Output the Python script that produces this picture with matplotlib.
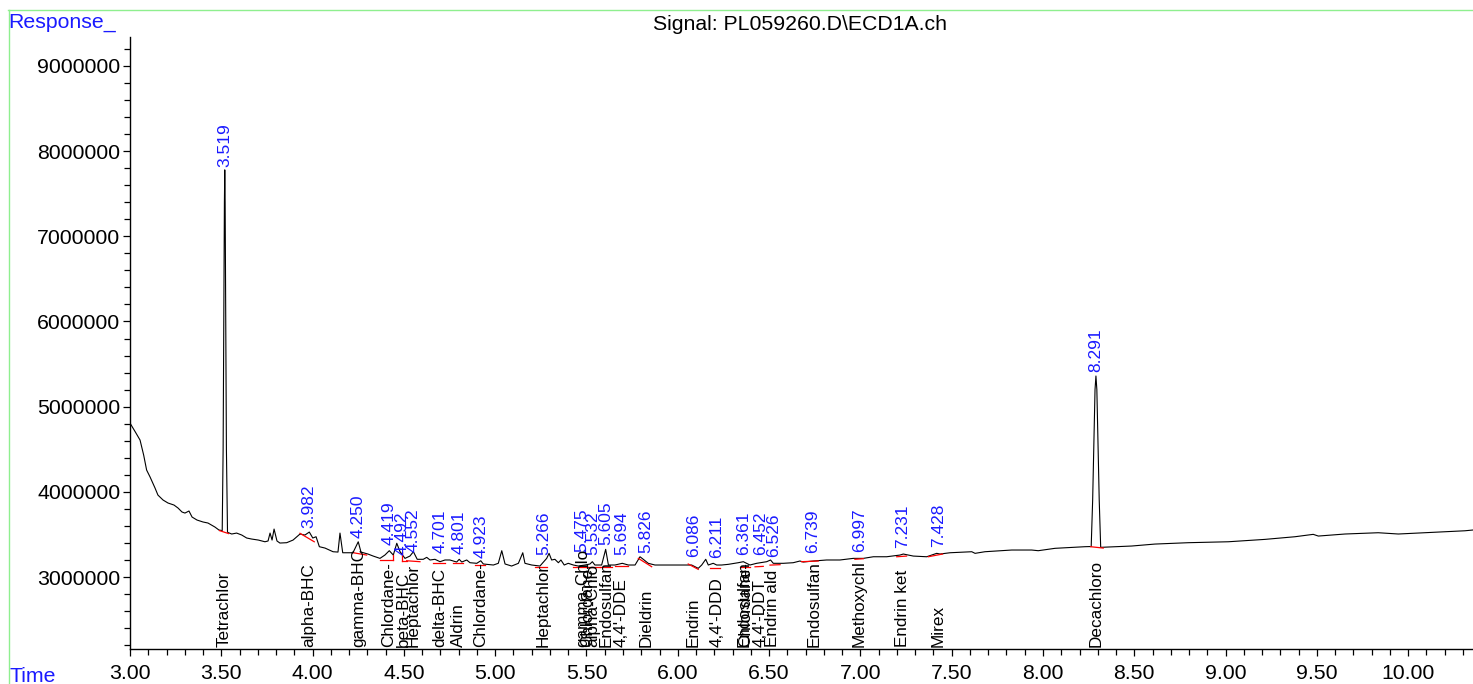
import matplotlib
matplotlib.use("Agg")
import matplotlib.pyplot as plt
from matplotlib.lines import Line2D
from matplotlib.ticker import MultipleLocator, FormatStrFormatter
import matplotlib.transforms as mtransforms

plt.rcParams['font.family'] = ['Liberation Sans', 'DejaVu Sans']

# ---------------- data ----------------
times = [3.000, 3.030, 3.055, 3.075, 3.091, 3.110, 3.137, 3.153, 3.181, 3.208, 3.241, 3.263,
         3.285, 3.301, 3.323, 3.340, 3.367, 3.400, 3.427, 3.465, 3.487, 3.505,
         3.510, 3.514, 3.517, 3.519, 3.521, 3.524, 3.528, 3.534, 3.557, 3.584,
         3.612, 3.639, 3.666, 3.703, 3.739, 3.756, 3.767, 3.778, 3.789, 3.805,
         3.821, 3.858, 3.893, 3.931, 3.958, 3.982, 4.001, 4.019, 4.037, 4.068,
         4.112, 4.139, 4.150, 4.165, 4.221, 4.250, 4.265, 4.303, 4.332, 4.369,
         4.396, 4.420, 4.442, 4.461, 4.479, 4.506, 4.533, 4.552, 4.573, 4.606,
         4.625, 4.643, 4.670, 4.698, 4.725, 4.752, 4.789, 4.803, 4.817, 4.844,
         4.862, 4.899, 4.921, 4.935, 4.990, 5.017, 5.036, 5.054, 5.090, 5.127,
         5.151, 5.163, 5.200, 5.245, 5.282, 5.295, 5.309, 5.327, 5.346, 5.360,
         5.378, 5.400, 5.428, 5.455, 5.492, 5.519, 5.532, 5.546, 5.583, 5.605,
         5.620, 5.656, 5.696, 5.729, 5.766, 5.793, 5.811, 5.838, 5.875, 5.948,
         6.021, 6.076, 6.112, 6.131, 6.153, 6.167, 6.194, 6.213, 6.240, 6.277,
         6.331, 6.359, 6.395, 6.432, 6.487, 6.508, 6.523, 6.578, 6.632, 6.669,
         6.687, 6.742, 6.815, 6.888, 6.961, 7.016, 7.071, 7.144, 7.217, 7.235,
         7.290, 7.363, 7.418, 7.436, 7.491, 7.610, 7.628, 7.682, 7.829, 7.938,
         7.974, 8.066, 8.230, 8.264, 8.272, 8.279, 8.285, 8.290, 8.295, 8.301,
         8.308, 8.316, 8.322, 8.486, 8.613, 8.796, 9.015, 9.216, 9.380, 9.480,
         9.508, 9.654, 9.836, 9.946, 10.092, 10.311, 10.355]

response = [4807000, 4700000, 4608000, 4430000, 4256000, 4174000, 4045000, 3962000, 3904000, 3869000, 3845000, 3810000,
            3763000, 3751000, 3775000, 3704000, 3669000, 3646000, 3634000, 3587000, 3552000, 3545000,
            4500000, 6200000, 7400000, 7780000, 7400000, 6200000, 4500000, 3525000, 3505000, 3516000,
            3493000, 3458000, 3446000, 3434000, 3414000, 3423000, 3516000, 3434000, 3563000, 3423000,
            3399000, 3403000, 3434000, 3505000, 3493000, 3528000, 3458000, 3473000, 3356000, 3340000,
            3297000, 3293000, 3516000, 3285000, 3285000, 3414000, 3293000, 3270000, 3246000, 3219000,
            3258000, 3309000, 3258000, 3396000, 3297000, 3219000, 3246000, 3297000, 3208000, 3208000,
            3231000, 3200000, 3208000, 3180000, 3200000, 3200000, 3176000, 3208000, 3176000, 3200000,
            3168000, 3161000, 3191000, 3153000, 3141000, 3161000, 3309000, 3153000, 3129000, 3161000,
            3285000, 3161000, 3141000, 3129000, 3219000, 3278000, 3200000, 3208000, 3168000, 3200000,
            3141000, 3161000, 3141000, 3129000, 3141000, 3153000, 3180000, 3141000, 3141000, 3325000,
            3141000, 3141000, 3161000, 3141000, 3141000, 3238000, 3208000, 3161000, 3141000, 3141000,
            3141000, 3141000, 3102000, 3141000, 3208000, 3141000, 3161000, 3141000, 3141000, 3149000,
            3168000, 3180000, 3141000, 3161000, 3180000, 3200000, 3161000, 3161000, 3168000, 3188000,
            3176000, 3188000, 3200000, 3200000, 3219000, 3219000, 3238000, 3238000, 3258000, 3270000,
            3246000, 3238000, 3278000, 3270000, 3285000, 3297000, 3278000, 3297000, 3317000, 3317000,
            3309000, 3337000, 3356000, 3358000, 3900000, 4600000, 5200000, 5360000, 5200000, 4600000,
            3900000, 3350000, 3349000, 3364000, 3387000, 3403000, 3414000, 3442000, 3473000, 3501000,
            3481000, 3505000, 3520000, 3505000, 3520000, 3543000, 3552000]

# integration baselines (start time, start response, end time, end response)
base_t0 = [3.490, 3.931, 4.223, 4.369, 4.442, 4.488, 4.488, 4.515, 4.661, 4.770,
           4.889, 5.218, 5.428, 5.500, 5.574, 5.656, 5.784, 6.057, 6.176, 6.341,
           6.423, 6.505, 6.678, 6.970, 7.199, 7.372, 8.261]
base_v0 = [3545000, 3513000, 3285000, 3200000, 3200000, 3191000, 3191000, 3191000, 3168000, 3168000,
           3141000, 3114000, 3114000, 3114000, 3114000, 3129000, 3219000, 3153000, 3102000, 3120000,
           3120000, 3140000, 3180000, 3208000, 3238000, 3238000, 3356000]
base_t1 = [3.540, 4.009, 4.296, 4.442, 4.442, 4.515, 4.488, 4.588, 4.725, 4.825,
           4.944, 5.282, 5.500, 5.574, 5.638, 5.729, 5.857, 6.112, 6.231, 6.395,
           6.468, 6.560, 6.769, 7.016, 7.253, 7.450, 8.330]
base_v1 = [3510000, 3414000, 3258000, 3200000, 3258000, 3191000, 3297000, 3180000, 3168000, 3168000,
           3141000, 3114000, 3114000, 3114000, 3114000, 3129000, 3121000, 3090000, 3102000, 3120000,
           3125000, 3145000, 3188000, 3215000, 3246000, 3270000, 3340000]

# retention-time labels
peak_rt = [3.519, 3.982, 4.250, 4.419, 4.492, 4.552, 4.701, 4.801, 4.923, 5.266,
           5.475, 5.532, 5.605, 5.694, 5.826, 6.086, 6.211, 6.361, 6.452, 6.526,
           6.739, 6.997, 7.231, 7.428, 8.291]
peak_label_y = [7812000, 3575000, 3460000, 3376000, 3258000, 3293000, 3282000, 3270000, 3223000, 3258000,
                3293000, 3258000, 3376000, 3258000, 3282000, 3235000, 3223000, 3258000, 3258000, 3235000,
                3282000, 3293000, 3340000, 3352000, 5406000]

# compound names
name_rt = [3.515, 3.978, 4.253, 4.416, 4.495, 4.550, 4.699, 4.799, 4.919, 5.264,
           5.478, 5.505, 5.535, 5.606, 5.692, 5.824, 6.082, 6.215, 6.362, 6.372,
           6.452, 6.520, 6.745, 6.993, 7.233, 7.424, 8.292]
names = ["Tetrachlor", "alpha-BHC", "gamma-BHC", "Chlordane-", "beta-BHC", "Heptachlor",
         "delta-BHC", "Aldrin", "Chlordane-", "Heptachlor", "gamma-Chlo", "Chlordane-",
         "alpha-Chlo", "Endosulfan", "4,4'-DDE", "Dieldrin", "Endrin", "4,4'-DDD",
         "Endosulfan", "Chlordane-", "4,4'-DDT", "Endrin ald", "Endosulfan", "Methoxychl",
         "Endrin ket", "Mirex", "Decachloro"]

x_major = [3.0, 3.5, 4.0, 4.5, 5.0, 5.5, 6.0, 6.5, 7.0, 7.5, 8.0, 8.5, 9.0, 9.5, 10.0]
y_major = [3000000, 4000000, 5000000, 6000000, 7000000, 8000000, 9000000]

# ---------------- figure ----------------
W, H = 1473, 684
fig = plt.figure(figsize=(W / 100, H / 100), dpi=100)
ax = fig.add_axes([130 / W, 1 - 649 / H, (W - 130) / W, (649 - 37) / H])

ax.plot(times, response, color='black', lw=0.8)
for a, b, c, d in zip(base_t0, base_v0, base_t1, base_v1):
    ax.plot([a, c], [b, d], color='red', lw=0.9)

for rt, yv in zip(peak_rt, peak_label_y):
    ax.text(rt, yv, f"{rt:.3f}", rotation=90, ha='center', va='bottom',
            color='#1a1aff', fontsize=12.5)

trans = mtransforms.blended_transform_factory(ax.transData, ax.transAxes)
for rt, nm in zip(name_rt, names):
    ax.text(rt, 0.003, nm, rotation=90, ha='center', va='bottom',
            color='black', fontsize=12.3, transform=trans)

ax.set_xlim(3.0, 10.355)
ax.set_ylim(2155000, 9340000)
ax.set_xticks(x_major)
ax.xaxis.set_minor_locator(MultipleLocator(0.1))
ax.xaxis.set_major_formatter(FormatStrFormatter('%.2f'))
ax.set_yticks(y_major)
ax.yaxis.set_minor_locator(MultipleLocator(200000))
ax.yaxis.set_major_formatter(FormatStrFormatter('%d'))

for s in ['top', 'right']:
    ax.spines[s].set_visible(False)
for s in ['left', 'bottom']:
    ax.spines[s].set_linewidth(1.0)
    ax.spines[s].set_color('black')

ax.tick_params(axis='both', which='major', labelsize=15.3, length=5, width=0.9, direction='out')
ax.tick_params(axis='both', which='minor', length=4, width=0.9, direction='out')
ax.tick_params(axis='x', pad=6)
ax.tick_params(axis='y', pad=2)

fig.text(800 / W, 1 - 25 / H, r"Signal: PL059260.D\ECD1A.ch", ha='center', va='center',
         fontsize=15.3, color='black')
fig.text(8 / W, 1 - 22 / H, "Response_", ha='left', va='center', fontsize=15.3, color='#1a1aff')
fig.text(10 / W, 1 - 677 / H, "Time", ha='left', va='center', fontsize=15.3, color='#1a1aff')

fig.add_artist(Line2D([8 / W, 1.0], [1 - 9.5 / H, 1 - 9.5 / H], color='#8fef8f', lw=1.0))
fig.add_artist(Line2D([8.5 / W, 8.5 / W], [1 - 9.5 / H, 0.0], color='#8fef8f', lw=1.0))

fig.savefig("out.png", dpi=100)
